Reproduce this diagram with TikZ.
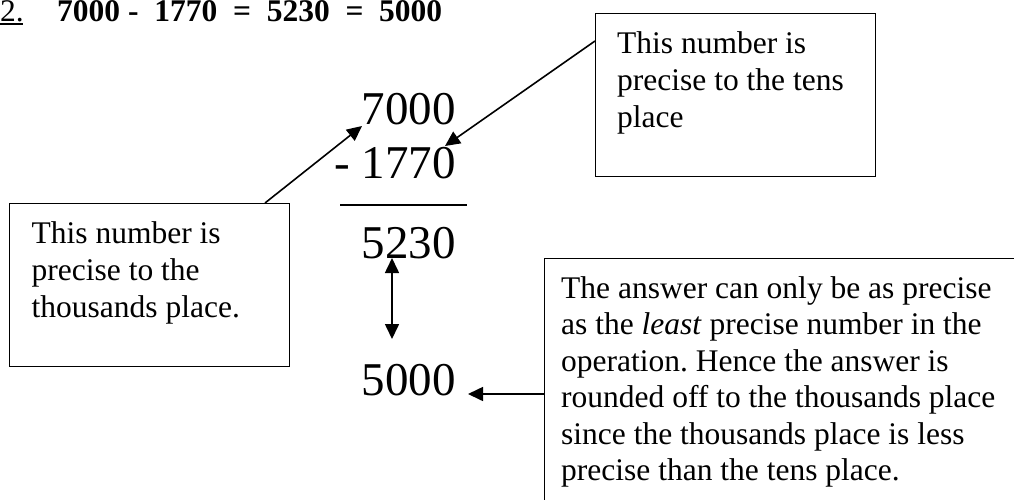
\documentclass[tikz,border=0pt]{standalone}
\usepackage{fontspec}
\setmainfont{Liberation Serif}
\usetikzlibrary{arrows.meta}
\frenchspacing
\tikzset{
  frame/.style={draw=black, line width=1.3pt, inner sep=0pt, anchor=north west},
  bodytext/.style={inner sep=0pt, anchor=north west, align=left, font=\fontsize{31.5}{37}\selectfont},
  bignum/.style={inner sep=0pt, anchor=base east, font=\fontsize{47}{54}\selectfont},
  titletext/.style={inner sep=0pt, anchor=base west, font=\fontsize{31.5}{37}\selectfont},
  conn/.style={line width=1.6pt, -{Triangle[length=15pt,width=14pt]}},
  dconn/.style={line width=1.6pt, {Triangle[length=15pt,width=14pt]}-{Triangle[length=15pt,width=14pt]}},
}
\begin{document}
\begin{tikzpicture}[x=1pt,y=-1pt]
\useasboundingbox (0,0) rectangle (1014,499);
\clip (0,0) rectangle (1014,499);
% title
\node[titletext] (num) at (0,21.5) {2.};
\draw[line width=1.5pt] ([yshift=-2.5pt]num.base west) -- ([yshift=-2.5pt,xshift=-1.5pt]num.base east);
\node[titletext, font=\fontsize{31.5}{37}\selectfont\bfseries] (eq) at (57,21.5) {7000 -\ \ 1770\ \ =\ \ 5230\ \ =\ \ 5000};
% boxes
\node[frame, minimum width=280pt, minimum height=163pt] (tbox) at (595,13) {};
\node[frame, minimum width=280pt, minimum height=163pt] (lbox) at (9,203) {};
\node[frame, minimum width=480pt, minimum height=260pt] (bbox) at (544,258) {};
% box texts
\node[bodytext] (ttext) at (617,31.5) {This number is\\precise to the tens\\place};
\node[bodytext] (ltext) at (31.5,221.5) {This number is\\precise to the\\thousands place.};
\node[bodytext, font=\fontsize{31.5}{36.4}\selectfont] (btext) at (561,276.5) {The answer can only be as precise\\as the \textit{least} precise number in the\\operation. Hence the answer is\\rounded off to the thousands place\\since the thousands place is less\\precise than the tens place.};
% the subtraction
\node[bignum] (n7000) at (456,124) {7000};
\node[bignum] (n1770) at (456,178) {- 1770};
\node[bignum] (n5230) at (456,258) {5230};
\node[bignum] (n5000) at (456,395) {5000};
\coordinate (r1) at (340,205);
\coordinate (r2) at (467,205);
\draw[line width=1.3pt] (r1) -- (r2);
% connectors
\coordinate (a1s) at (265,203);
\coordinate (a1e) at (362,126);
\coordinate (a2s) at (595,41);
\coordinate (a2e) at (445,146);
\coordinate (a3s) at (544,394);
\coordinate (a3e) at (468,394);
\coordinate (d1) at (392,258);
\coordinate (d2) at (392,339);
\draw[conn] (a1s) -- (a1e);
\draw[conn] (a2s) -- (a2e);
\draw[conn] (a3s) -- (a3e);
\draw[dconn] (d1) -- (d2);
\end{tikzpicture}
\end{document}
